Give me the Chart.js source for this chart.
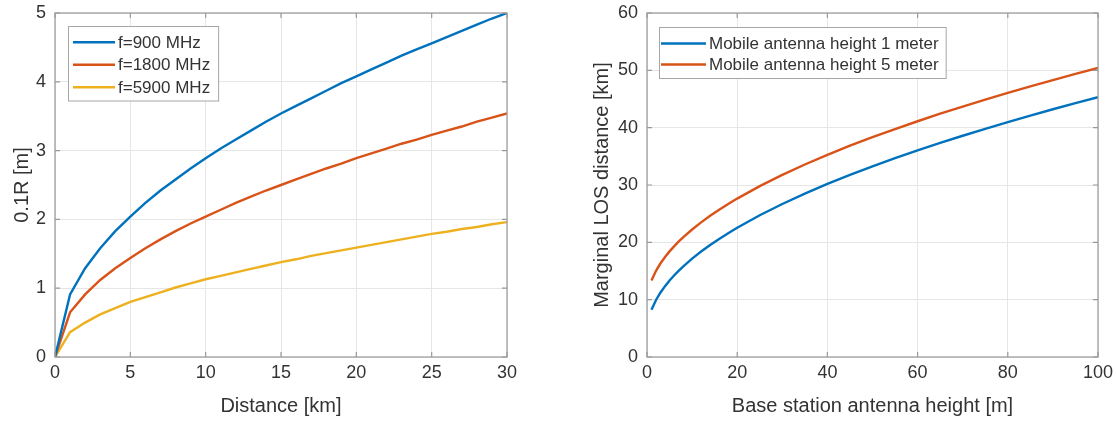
<!DOCTYPE html>
<html>
<head>
<meta charset="utf-8">
<script src="https://cdn.jsdelivr.net/npm/chart.js@4.4.1/dist/chart.umd.min.js"></script>
<style>
  html, body { margin: 0; padding: 0; background: #fff; }
  #wrap { position: relative; width: 1116px; height: 421px; }
  .box { position: absolute; top: 0; width: 558px; height: 421px; }
</style>
</head>
<body>
<div id="wrap">
  <div class="box" style="left:0"><canvas id="c1"></canvas></div>
  <div class="box" style="left:558px"><canvas id="c2"></canvas></div>
</div>
<script>
// ---------- Left chart data ----------
const distanceKm = [0,1,2,3,4,5,6,7,8,9,10,11,12,13,14,15,16,17,18,19,20,21,22,23,24,25,26,27,28,29,30];
const r900  = [0,0.91,1.29,1.58,1.83,2.04,2.24,2.42,2.58,2.74,2.89,3.03,3.16,3.29,3.42,3.54,3.65,3.76,3.87,3.98,4.08,4.18,4.28,4.38,4.47,4.56,4.65,4.74,4.83,4.92,5.00];
const r1800 = [0,0.65,0.91,1.12,1.29,1.44,1.58,1.71,1.83,1.94,2.04,2.14,2.24,2.33,2.42,2.50,2.58,2.66,2.74,2.81,2.89,2.96,3.03,3.10,3.16,3.23,3.29,3.35,3.42,3.48,3.54];
const r5900 = [0,0.36,0.50,0.62,0.71,0.80,0.87,0.94,1.01,1.07,1.13,1.18,1.23,1.28,1.33,1.38,1.42,1.47,1.51,1.55,1.59,1.63,1.67,1.71,1.75,1.79,1.82,1.86,1.89,1.93,1.96];
const leftLabels = ['f=900 MHz','f=1800 MHz','f=5900 MHz'];
const leftXTicks = [0,5,10,15,20,25,30];
const leftYTicks = [0,1,2,3,4,5];

// ---------- Right chart data ----------
const baseHeightM = [1,2,3,4,5,6,7,8,10,12,14,16,18,20,25,30,35,40,45,50,55,60,65,70,75,80,85,90,95,100];
const los1m = [8.24,9.95,11.26,12.36,13.33,14.21,15.02,15.77,17.15,18.39,19.54,20.60,21.60,22.54,24.72,26.68,28.49,30.18,31.76,33.25,34.67,36.03,37.34,38.59,39.80,40.97,42.11,43.21,44.28,45.32];
const los5m = [13.33,15.04,16.35,17.45,18.42,19.30,20.11,20.86,22.24,23.48,24.63,25.69,26.69,27.63,29.81,31.77,33.58,35.27,36.85,38.34,39.76,41.12,42.43,43.68,44.89,46.06,47.20,48.30,49.37,50.41];
const rightLabels = ['Mobile antenna height 1 meter','Mobile antenna height 5 meter'];
const rightXTicks = [0,20,40,60,80,100];
const rightYTicks = [0,10,20,30,40,50,60];

const COLORS = ['#0072BD','#D95319','#EDB120'];
const FONT = 'Liberation Sans, Arial, Helvetica, sans-serif';
const TEXT = '#333333';

function pts(xs, ys) { return xs.map((x, i) => ({x: x, y: ys[i]})); }

// Frame + inward ticks on all four sides (MATLAB "box on")
const framePlugin = {
  id: 'frame',
  afterDatasetsDraw(chart) {
    const {ctx, chartArea: a, scales} = chart;
    ctx.save();
    ctx.strokeStyle = '#999999';
    ctx.lineWidth = 1.2;
    ctx.strokeRect(a.left, a.top, a.right - a.left, a.bottom - a.top);
    const L = 5;
    ctx.beginPath();
    scales.x.ticks.forEach(t => {
      const px = scales.x.getPixelForValue(t.value);
      ctx.moveTo(px, a.bottom); ctx.lineTo(px, a.bottom - L);
      ctx.moveTo(px, a.top); ctx.lineTo(px, a.top + L);
    });
    scales.y.ticks.forEach(t => {
      const py = scales.y.getPixelForValue(t.value);
      ctx.moveTo(a.left, py); ctx.lineTo(a.left + L, py);
      ctx.moveTo(a.right, py); ctx.lineTo(a.right - L, py);
    });
    ctx.stroke();
    ctx.restore();
  }
};

// Legend box inside plot, top-left
const legendPlugin = {
  id: 'boxLegend',
  afterDraw(chart, args, opts) {
    const {ctx, chartArea: a} = chart;
    ctx.save();
    ctx.font = '17px ' + FONT;
    const ds = chart.data.datasets;
    let maxW = 0;
    ds.forEach(d => { maxW = Math.max(maxW, ctx.measureText(d.label).width); });
    const x0 = a.left + opts.dx, y0 = a.top + opts.dy;
    const w = opts.padL + opts.lineLen + opts.gap + maxW + opts.padR;
    const h = opts.padT + opts.rowH * ds.length + opts.padB;
    ctx.fillStyle = '#fff';
    ctx.fillRect(x0, y0, w, h);
    ctx.strokeStyle = '#a6a6a6';
    ctx.lineWidth = 1;
    ctx.strokeRect(x0 + 0.5, y0 + 0.5, w, h);
    ds.forEach((d, i) => {
      const cy = y0 + opts.padT + opts.rowH * (i + 0.5);
      ctx.strokeStyle = d.borderColor;
      ctx.lineWidth = 2.4;
      ctx.beginPath();
      ctx.moveTo(x0 + opts.padL, cy);
      ctx.lineTo(x0 + opts.padL + opts.lineLen, cy);
      ctx.stroke();
      ctx.fillStyle = TEXT;
      ctx.textBaseline = 'middle';
      ctx.textAlign = 'left';
      ctx.fillText(d.label, x0 + opts.padL + opts.lineLen + opts.gap, cy + 1);
    });
    ctx.restore();
  }
};

function makeChart(id, datasets, cfg) {
  return new Chart(document.getElementById(id), {
    type: 'line',
    data: { datasets: datasets },
    plugins: [framePlugin, legendPlugin],
    options: {
      responsive: true,
      maintainAspectRatio: false,
      animation: false,
      layout: { padding: { left: 0, right: cfg.padRight, top: cfg.padTop, bottom: 0 } },
      elements: { point: { radius: 0 }, line: { borderWidth: 2.4, tension: 0 } },
      plugins: {
        legend: { display: false },
        tooltip: { enabled: false },
        boxLegend: cfg.legend
      },
      scales: {
        x: {
          type: 'linear',
          min: cfg.xTicks[0], max: cfg.xTicks[cfg.xTicks.length - 1],
          afterBuildTicks: s => { s.ticks = cfg.xTicks.map(v => ({value: v})); },
          afterFit: s => { s.height = cfg.xAxisH; s.paddingLeft = 0; s.paddingRight = 0; },
          grid: { color: '#e6e6e6', lineWidth: 1, drawTicks: false },
          border: { display: false },
          ticks: { color: TEXT, font: { family: FONT, size: 18 }, padding: 5, maxRotation: 0, autoSkip: false },
          title: { display: true, text: cfg.xTitle, color: TEXT, font: { family: FONT, size: 20 }, padding: { top: 0, bottom: 3 } }
        },
        y: {
          type: 'linear',
          min: cfg.yTicks[0], max: cfg.yTicks[cfg.yTicks.length - 1],
          afterBuildTicks: s => { s.ticks = cfg.yTicks.map(v => ({value: v})); },
          afterFit: s => { s.width = cfg.yAxisW; s.paddingTop = 0; s.paddingBottom = 0; },
          grid: { color: '#e6e6e6', lineWidth: 1, drawTicks: false },
          border: { display: false },
          ticks: { color: TEXT, font: { family: FONT, size: 18 }, padding: 9, autoSkip: false },
          title: { display: true, text: cfg.yTitle, color: TEXT, font: { family: FONT, size: 20 }, padding: { top: cfg.yTitlePad, bottom: 0 } }
        }
      }
    }
  });
}

makeChart('c1', [
  { label: leftLabels[0], data: pts(distanceKm, r900),  borderColor: COLORS[0], backgroundColor: COLORS[0] },
  { label: leftLabels[1], data: pts(distanceKm, r1800), borderColor: COLORS[1], backgroundColor: COLORS[1] },
  { label: leftLabels[2], data: pts(distanceKm, r5900), borderColor: COLORS[2], backgroundColor: COLORS[2] }
], {
  xTicks: leftXTicks, yTicks: leftYTicks,
  xTitle: 'Distance [km]', yTitle: '0.1R [m]',
  padRight: 51, padTop: 13, xAxisH: 64, yAxisW: 55, yTitlePad: 10,
  legend: { dx: 13, dy: 13, padL: 5, lineLen: 42, gap: 3, padR: 8, padT: 5, rowH: 22.5, padB: 2 }
});

makeChart('c2', [
  { label: rightLabels[0], data: pts(baseHeightM, los1m), borderColor: COLORS[0], backgroundColor: COLORS[0] },
  { label: rightLabels[1], data: pts(baseHeightM, los5m), borderColor: COLORS[1], backgroundColor: COLORS[1] }
], {
  xTicks: rightXTicks, yTicks: rightYTicks,
  xTitle: 'Base station antenna height [m]', yTitle: 'Marginal LOS distance [km]',
  padRight: 18, padTop: 13, xAxisH: 64, yAxisW: 89, yTitlePad: 32,
  legend: { dx: 12, dy: 14, padL: 2, lineLen: 45, gap: 3, padR: 7, padT: 6, rowH: 21, padB: 3 }
});
</script>
</body>
</html>
